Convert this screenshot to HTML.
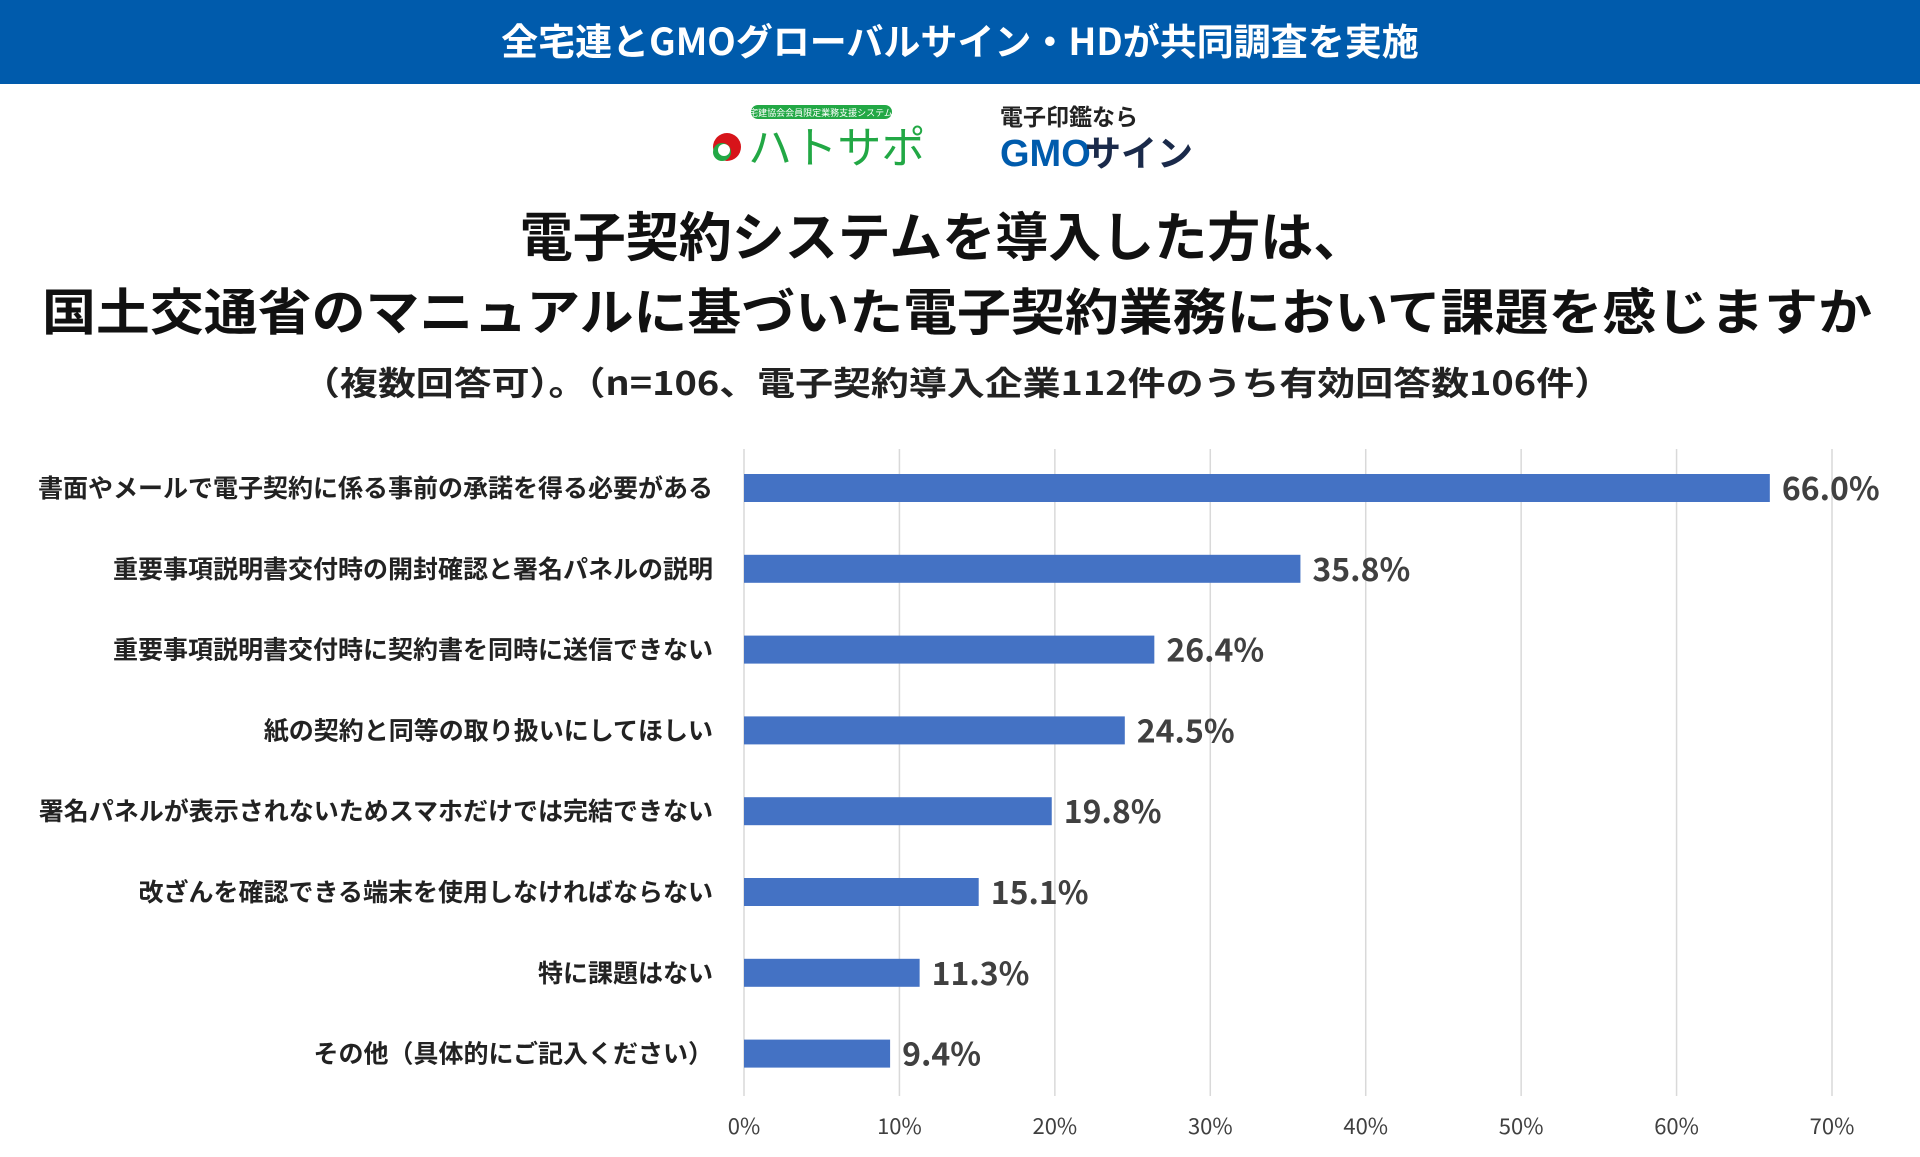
<!DOCTYPE html>
<html><head><meta charset="utf-8">
<style>
html,body{margin:0;padding:0;background:#fff;}
body{width:1920px;height:1157px;overflow:hidden;position:relative;font-family:"Liberation Sans","Noto Sans CJK JP",sans-serif;}
</style></head>
<body>
<svg id="chart" width="1920" height="1157" xmlns="http://www.w3.org/2000/svg" style="position:absolute;left:0;top:0">
<rect x="0" y="0" width="1920" height="84" fill="#005bac"/>
<text x="960" y="55" text-anchor="middle" fill="#fff" font-size="37" font-weight="bold" font-family="'Noto Sans CJK JP',sans-serif">全宅連とGMOグローバルサイン・HDが共同調査を実施</text>
<g>
<rect x="751" y="105" width="141" height="14" rx="7" fill="#22a845"/>
<text x="821" y="116" text-anchor="middle" fill="#fff" font-size="9" font-family="'Noto Sans CJK JP',sans-serif">宅建協会会員限定業務支援システム</text>
<circle cx="727" cy="147" r="14" fill="#d7141a"/>
<circle cx="722" cy="152" r="9" fill="#22a845"/>
<circle cx="724" cy="150" r="6" fill="#fff"/>
<text x="748" y="163" fill="#22a845" font-size="44" font-family="'Noto Sans CJK JP',sans-serif">ハトサポ</text>
</g>
<g>
<text x="1000" y="125" fill="#222" font-size="23" font-weight="bold" font-family="'Noto Sans CJK JP',sans-serif">電子印鑑なら</text>
<text x="1000" y="166" fill="#005bac" font-size="38" font-weight="bold" font-family="'Liberation Sans',sans-serif">GMO</text>
<text x="1085" y="166" fill="#1a2a4a" font-size="36" font-weight="bold" font-family="'Noto Sans CJK JP',sans-serif">サイン</text>
</g>
<text x="943" y="256" text-anchor="middle" fill="#111" font-size="53" font-weight="bold" font-family="'Noto Sans CJK JP',sans-serif">電子契約システムを導入した方は、</text>
<text x="957" y="330" text-anchor="middle" fill="#111" font-size="50" font-weight="bold" textLength="1830" lengthAdjust="spacingAndGlyphs" font-family="'Noto Sans CJK JP',sans-serif">国土交通省のマニュアルに基づいた電子契約業務において課題を感じますか</text>
<text x="957" y="395" text-anchor="middle" fill="#222" font-size="33" font-weight="bold" textLength="1310" lengthAdjust="spacingAndGlyphs" font-family="'Noto Sans CJK JP',sans-serif">（複数回答可）。（n=106、電子契約導入企業112件のうち有効回答数106件）</text>
<g id="grid"></g><g id="bars"></g><g id="labels"></g><g id="ticks"></g>
</svg>
<script>
const categories=["書面やメールで電子契約に係る事前の承諾を得る必要がある","重要事項説明書交付時の開封確認と署名パネルの説明","重要事項説明書交付時に契約書を同時に送信できない","紙の契約と同等の取り扱いにしてほしい","署名パネルが表示されないためスマホだけでは完結できない","改ざんを確認できる端末を使用しなければならない","特に課題はない","その他（具体的にご記入ください）"];
const values=[66.0,35.8,26.4,24.5,19.8,15.1,11.3,9.4];
const tickValues=[0,10,20,30,40,50,60,70];
const NS="http://www.w3.org/2000/svg";
const x0=744,x70=1832,gridTop=449,gridBottom=1096,rowStart=488,rowStep=80.8,barH=28;
function xs(v){return x0+(x70-x0)*v/70;}
function ys(i){return rowStart+i*rowStep;}
function mk(tag,attrs,parent,txt){const e=document.createElementNS(NS,tag);for(const k in attrs)e.setAttribute(k,attrs[k]);if(txt!==undefined)e.textContent=txt;document.getElementById(parent).appendChild(e);return e;}
tickValues.forEach(t=>{
 const l=mk('line',{x1:xs(t),x2:xs(t),y1:gridTop,y2:gridBottom,stroke:'#d9d9d9','stroke-width':1.5},'grid');
 
 
 const tx=mk('text',{x:xs(t),y:1134,'text-anchor':'middle','font-size':22,fill:'#404040','font-family':"'Noto Sans CJK JP',sans-serif"},'ticks',t+'%');
 
 
});
values.forEach((v,i)=>{
 const cy=ys(i);
 const r=mk('rect',{x:x0,y:cy-barH/2,width:xs(v)-x0,height:barH,fill:'#4472c4'},'bars');
 
 
 const vl=mk('text',{x:xs(v)+12,y:cy+12,'font-size':32,'font-weight':'bold',fill:'#404040','font-family':"'Noto Sans CJK JP',sans-serif"},'labels',v.toFixed(1)+'%');
 
 
 const cl=mk('text',{x:713,y:cy+9,'text-anchor':'end','font-size':25,'font-weight':'bold',fill:'#222','font-family':"'Noto Sans CJK JP',sans-serif"},'labels',categories[i]);
 
 
});
</script>
</body></html>
